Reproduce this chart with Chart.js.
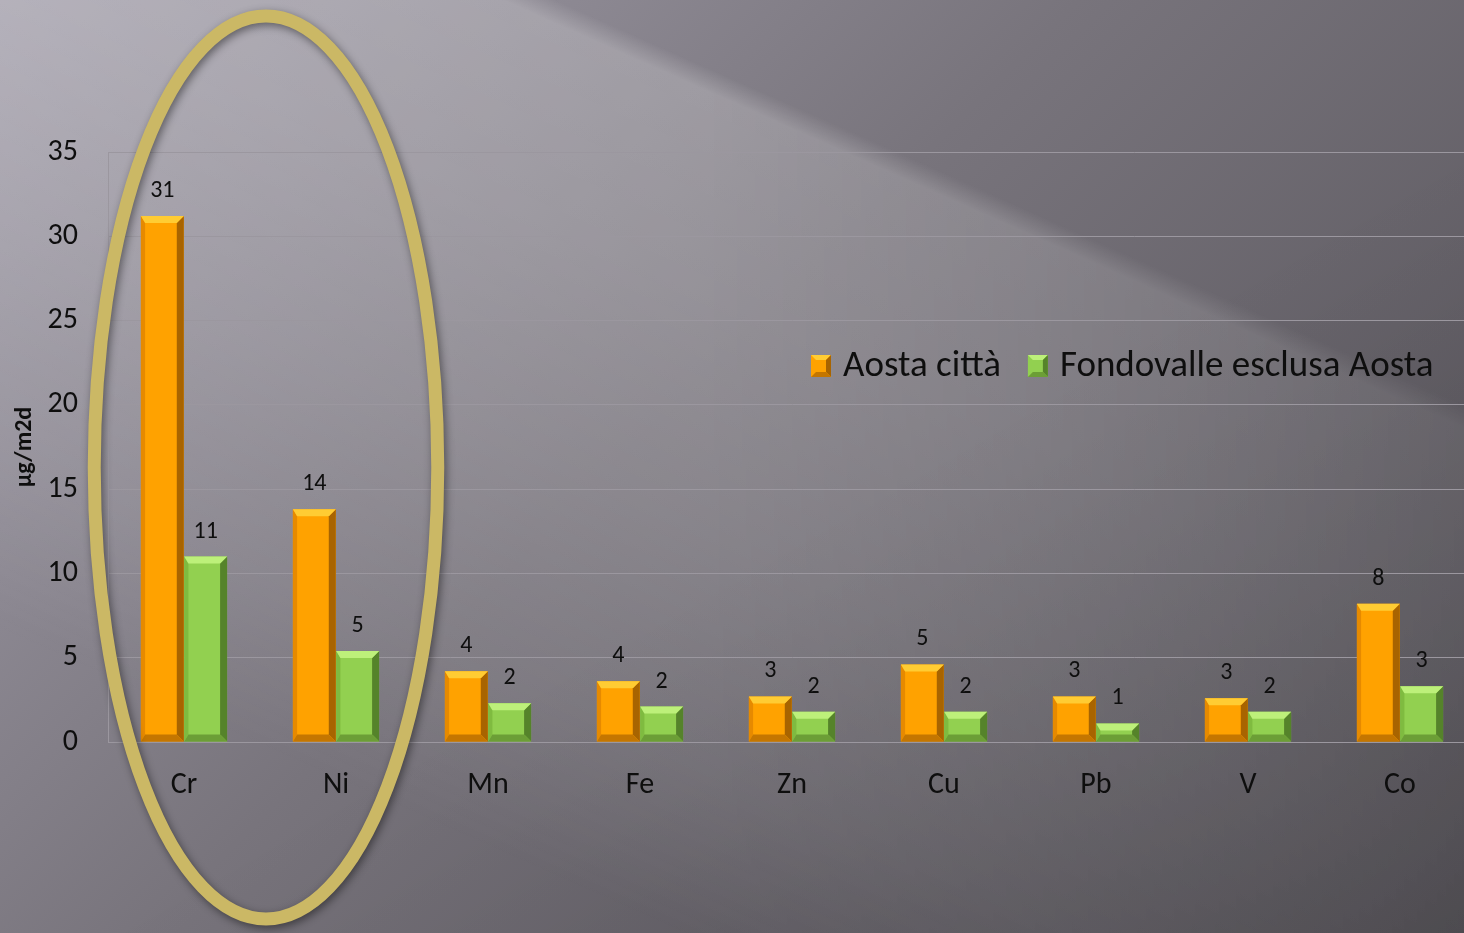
<!DOCTYPE html>
<html lang="it">
<head>
<meta charset="utf-8">
<title>Deposizioni metalli</title>
<script src="https://cdn.jsdelivr.net/npm/chart.js@4.4.1/dist/chart.umd.min.js"></script>
<style>
    html, body {
        margin: 0;
        padding: 0;
        width: 1464px;
        height: 933px;
        overflow: hidden;
    }
    /* sfondo grigio scuro */
    #bg {
        position: absolute;
        left: 0;
        top: 0;
        width: 1464px;
        height: 933px;
        background:
            linear-gradient(150deg, rgba(0,0,0,0) 55%, rgba(0,0,0,0.12) 100%),
            linear-gradient(135deg, #a39fab 0%, #78747c 45%, #504d53 100%);
    }
    /* fascio di luce diagonale che sfuma verso destra */
    #beam {
        position: absolute;
        left: 0;
        top: 0;
        width: 1464px;
        height: 933px;
        background: linear-gradient(24deg,
            rgba(255,255,255,0) 0%,
            rgba(255,255,255,0) 19%,
            rgba(255,255,255,0.08) 30%,
            rgba(255,255,255,0.15) 45%,
            rgba(255,255,255,0.2) 60%,
            rgba(255,255,255,0.22) 73%,
            rgba(255,255,255,0) 74.5%);
        -webkit-mask-image: linear-gradient(to right, #000 0%, #000 48%, rgba(0,0,0,0.75) 68%, rgba(0,0,0,0.3) 100%);
        mask-image: linear-gradient(to right, #000 0%, #000 48%, rgba(0,0,0,0.75) 68%, rgba(0,0,0,0.3) 100%);
    }
    #wrap {
        position: absolute;
        left: 0;
        top: 0;
        width: 1490px;
        height: 933px;
    }
</style>
</head>
<body>
<div id="bg"></div>
<div id="beam"></div>
<div id="wrap"><canvas id="metalChart"></canvas></div>
<script>
    // Dati: deposizione media dei metalli (µg/m2d)
    const metals = ['Cr', 'Ni', 'Mn', 'Fe', 'Zn', 'Cu', 'Pb', 'V', 'Co'];
    const aostaCitta = [31.2, 13.8, 4.2, 3.6, 2.7, 4.6, 2.7, 2.6, 8.2];
    const fondovalle = [11.0, 5.4, 2.3, 2.1, 1.8, 1.8, 1.1, 1.8, 3.3];
    const seriesLabels = ['Aosta città', 'Fondovalle esclusa Aosta'];
    const yTicks = [0, 5, 10, 15, 20, 25, 30, 35];

    const fontFamily = 'Carlito, Calibri, Lato, sans-serif';
    const textColor = '#0e0e0e';
    const gridColor = '#9b979f';

    // Colori delle barre: faccia, bordo chiaro in alto, bordi scuri
    const palette = [
        { face: '#ffa200', top: '#ffcc33', left: '#e68a00', right: '#a86400', bottom: '#c47600' },
        { face: '#92d050', top: '#bdf07a', left: '#7fbb40', right: '#55832a', bottom: '#6c9e36' }
    ];

    // Effetto rilievo sulle barre
    const bevelPlugin = {
        id: 'bevel',
        afterDatasetsDraw(chart) {
            const ctx = chart.ctx;
            chart.data.datasets.forEach((ds, i) => {
                const meta = chart.getDatasetMeta(i);
                const c = palette[i];
                meta.data.forEach(bar => {
                    const L = bar.x - bar.width / 2;
                    const R = bar.x + bar.width / 2;
                    const T = bar.y;
                    const B = bar.base;
                    const b = Math.min(7, (B - T) / 2);
                    const poly = (pts, color) => {
                        ctx.beginPath();
                        ctx.moveTo(pts[0][0], pts[0][1]);
                        for (let k = 1; k < pts.length; k++) ctx.lineTo(pts[k][0], pts[k][1]);
                        ctx.closePath();
                        ctx.fillStyle = color;
                        ctx.fill();
                    };
                    ctx.save();
                    poly([[L, T], [L, B], [L + b * 0.6, B - b], [L + b * 0.6, T + b]], c.left);
                    poly([[R, T], [R, B], [R - b, B - b], [R - b, T + b]], c.right);
                    poly([[L, B], [R, B], [R - b, B - b], [L + b * 0.6, B - b]], c.bottom);
                    poly([[L, T], [R, T], [R - b, T + b], [L + b * 0.6, T + b]], c.top);
                    ctx.restore();
                });
            });
        }
    };

    // Etichette con il valore arrotondato sopra ogni barra
    const valueLabelsPlugin = {
        id: 'valueLabels',
        afterDatasetsDraw(chart) {
            const ctx = chart.ctx;
            ctx.save();
            ctx.font = '24px ' + fontFamily;
            ctx.fillStyle = textColor;
            ctx.textAlign = 'center';
            ctx.textBaseline = 'middle';
            chart.data.datasets.forEach((ds, i) => {
                const meta = chart.getDatasetMeta(i);
                meta.data.forEach((bar, j) => {
                    ctx.fillText(String(Math.round(ds.data[j])), bar.x, bar.y - 25);
                });
            });
            ctx.restore();
        }
    };

    // Legenda disegnata dentro l'area del grafico
    const legendPlugin = {
        id: 'inlineLegend',
        afterDraw(chart) {
            const ctx = chart.ctx;
            const area = chart.chartArea;
            const y = area.top + 214;
            let x = 811;
            ctx.save();
            ctx.font = '37px ' + fontFamily;
            ctx.textBaseline = 'middle';
            seriesLabels.forEach((label, i) => {
                const c = palette[i];
                const w = 20, h = 22, t = y - h / 2, b = 5;
                ctx.fillStyle = c.face;
                ctx.fillRect(x, t, w, h);
                ctx.fillStyle = c.top;
                ctx.beginPath();
                ctx.moveTo(x, t); ctx.lineTo(x + w, t); ctx.lineTo(x + w - b, t + b); ctx.lineTo(x + b, t + b);
                ctx.fill();
                ctx.fillStyle = c.right;
                ctx.beginPath();
                ctx.moveTo(x + w, t); ctx.lineTo(x + w, t + h); ctx.lineTo(x + w - b, t + h - b); ctx.lineTo(x + w - b, t + b);
                ctx.fill();
                ctx.fillStyle = c.bottom;
                ctx.beginPath();
                ctx.moveTo(x, t + h); ctx.lineTo(x + w, t + h); ctx.lineTo(x + w - b, t + h - b); ctx.lineTo(x + b, t + h - b);
                ctx.fill();
                ctx.fillStyle = textColor;
                ctx.fillText(label, x + w + 12, y + 1);
                x += w + 12 + ctx.measureText(label).width + 27;
            });
            ctx.restore();
        }
    };

    // Ellisse che evidenzia Cr e Ni
    const highlightPlugin = {
        id: 'highlight',
        afterDraw(chart) {
            const ctx = chart.ctx;
            const xs = chart.scales.x;
            const x0 = xs.getPixelForValue(0);
            const x1 = xs.getPixelForValue(1);
            const cx = (x0 + x1) / 2 + 6;
            const rx = (x1 - x0) * 1.13;
            const cy = chart.height / 2 + 1;
            const ry = chart.height / 2 - 15;
            ctx.save();
            ctx.shadowColor = 'rgba(0,0,0,0.45)';
            ctx.shadowBlur = 8;
            ctx.shadowOffsetX = 2;
            ctx.shadowOffsetY = 3;
            ctx.strokeStyle = '#cbb865';
            ctx.lineWidth = 13;
            ctx.beginPath();
            ctx.ellipse(cx, cy, rx, ry, 0, 0, Math.PI * 2);
            ctx.stroke();
            ctx.restore();
        }
    };

    const ctx = document.getElementById('metalChart').getContext('2d');
    const metalChart = new Chart(ctx, {
        type: 'bar',
        data: {
            labels: metals,
            datasets: [{
                label: seriesLabels[0],
                data: aostaCitta,
                backgroundColor: palette[0].face,
                borderWidth: 0
            }, {
                label: seriesLabels[1],
                data: fondovalle,
                backgroundColor: palette[1].face,
                borderWidth: 0
            }]
        },
        options: {
            responsive: true,
            maintainAspectRatio: false,
            animation: false,
            categoryPercentage: 0.57,
            barPercentage: 0.99,
            layout: {
                padding: { top: 152, right: 14, bottom: 0, left: 0 }
            },
            plugins: {
                legend: { display: false },
                tooltip: { enabled: false }
            },
            scales: {
                x: {
                    grid: { display: false, drawTicks: false },
                    border: { display: true, color: gridColor, width: 1 },
                    ticks: {
                        color: textColor,
                        padding: 25,
                        font: { family: fontFamily, size: 30 }
                    },
                    afterFit(scale) { scale.height = 191; }
                },
                y: {
                    min: 0,
                    max: 35,
                    afterBuildTicks(scale) {
                        scale.ticks = yTicks.map(v => ({ value: v }));
                    },
                    grid: { color: gridColor, lineWidth: 1, drawTicks: false },
                    border: { display: true, color: gridColor, width: 1 },
                    ticks: {
                        color: textColor,
                        padding: 30,
                        font: { family: fontFamily, size: 30 }
                    },
                    title: {
                        display: true,
                        text: 'µg/m2d',
                        color: textColor,
                        padding: { top: 11, bottom: 0 },
                        font: { family: fontFamily, size: 24, weight: 'bold' }
                    },
                    afterFit(scale) { scale.width = 108; }
                }
            }
        },
        plugins: [bevelPlugin, valueLabelsPlugin, legendPlugin, highlightPlugin]
    });
</script>
</body>
</html>
